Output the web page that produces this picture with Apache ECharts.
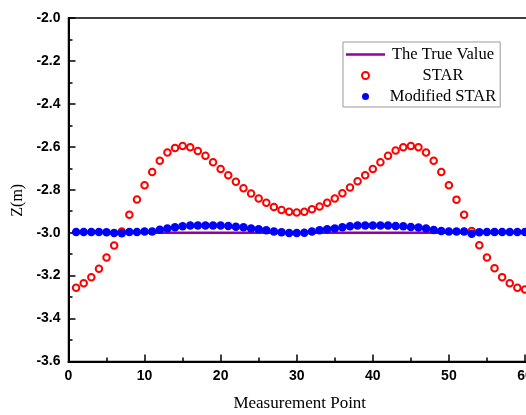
<!DOCTYPE html>
<html>
<head>
<meta charset="utf-8">
<script src="https://cdn.jsdelivr.net/npm/echarts@6/dist/echarts.min.js"></script>
<style>
html,body{margin:0;padding:0;background:#fff;overflow:hidden;}
#chart{width:563px;height:415px;}
</style>
</head>
<body>
<div id="chart"></div>
<script>
// Measurement points
var measurementPoints = [1,2,3,4,5,6,7,8,9,10,11,12,13,14,15,16,17,18,19,20,
  21,22,23,24,25,26,27,28,29,30,31,32,33,34,35,36,37,38,39,40,
  41,42,43,44,45,46,47,48,49,50,51,52,53,54,55,56,57,58,59,60];

// STAR estimates (m)
var starValues = [-3.256,-3.235,-3.208,-3.168,-3.116,-3.060,-2.995,-2.916,-2.845,-2.779,
  -2.717,-2.665,-2.627,-2.605,-2.596,-2.602,-2.619,-2.642,-2.672,-2.703,
  -2.732,-2.763,-2.793,-2.818,-2.841,-2.861,-2.880,-2.894,-2.903,-2.906,
  -2.903,-2.891,-2.878,-2.861,-2.841,-2.816,-2.790,-2.760,-2.732,-2.703,
  -2.672,-2.642,-2.617,-2.602,-2.596,-2.602,-2.627,-2.665,-2.717,-2.779,
  -2.846,-2.916,-2.992,-3.059,-3.116,-3.166,-3.207,-3.236,-3.256,-3.265];

// Modified STAR estimates (m)
var modifiedValues = [-2.997,-2.997,-2.997,-2.997,-2.998,-3.001,-3.003,-2.997,-2.997,-2.995,
  -2.994,-2.986,-2.980,-2.975,-2.970,-2.967,-2.966,-2.966,-2.966,-2.967,
  -2.969,-2.972,-2.975,-2.980,-2.984,-2.989,-2.994,-2.998,-3.001,-3.001,
  -3.000,-2.994,-2.989,-2.984,-2.980,-2.975,-2.970,-2.967,-2.966,-2.966,
  -2.966,-2.967,-2.969,-2.970,-2.973,-2.976,-2.981,-2.987,-2.992,-2.994,
  -2.994,-2.994,-3.005,-2.998,-2.997,-2.997,-2.997,-2.997,-2.997,-2.997];

// True value line
var trueValueX = [1, 60];
var trueValueY = [-3.0, -3.0];

// Axis ticks
var yTicks = ['-3.6','-3.4','-3.2','-3.0','-2.8','-2.6','-2.4','-2.2','-2.0'];
var xTicks = ['0','10','20','30','40','50','60'];

function pairs(xs, ys){ return xs.map(function(x,i){ return [x, ys[i]]; }); }

var chart = echarts.init(document.getElementById('chart'), null, {renderer:'canvas'});
var labelFont = {fontFamily:'Liberation Sans', fontWeight:'bold', fontSize:14, color:'#000'};

chart.setOption({
  animation:false,
  backgroundColor:'#fff',
  grid:{left:68.5, top:18, right:0, bottom:53.5, outerBoundsMode:'none', containLabel:false,
        show:true, borderColor:'#000', borderWidth:1.5, backgroundColor:'transparent'},
  legend:{
    data:[
      {name:'The True Value', icon:'path://M0,0 H39 V2.5 H0 Z'},
      {name:'STAR'},
      {name:'Modified STAR'}
    ],
    orient:'vertical', left:343, top:42,
    padding:[4,4,2,3], itemGap:4, itemWidth:39, itemHeight:7,
    backgroundColor:'#fff', borderColor:'#999', borderWidth:1, borderRadius:0,
    formatter:function(n){ return '{t|'+n+'}'; },
    textStyle:{rich:{t:{width:106, align:'center', fontFamily:'Liberation Serif', fontSize:16.5, lineHeight:16, height:16, color:'#000'}}}
  },
  xAxis:{
    type:'value', min:0, max:65, interval:10,
    name:'Measurement Point', nameLocation:'middle', nameGap:34,
    nameTextStyle:{fontFamily:'Liberation Serif', fontSize:17, color:'#000', padding:[0,32,0,0]},
    axisLine:{show:true, onZero:false, lineStyle:{color:'#000', width:2}},
    axisTick:{show:true, inside:true, length:7, lineStyle:{color:'#000', width:1.5}},
    minorTick:{show:true, splitNumber:2, length:4, lineStyle:{color:'#000', width:1.5}},
    axisLabel:Object.assign({margin:8, formatter:function(v){ var s=String(v); return xTicks.indexOf(s)>=0 ? s : ''; }}, labelFont),
    splitLine:{show:false}
  },
  yAxis:{
    type:'value', min:-3.6, max:-2.0, interval:0.2,
    name:'Z(m)', nameLocation:'middle', nameGap:42,
    nameTextStyle:{fontFamily:'Liberation Serif', fontSize:16, color:'#000', padding:[0,21,0,0]},
    axisLine:{show:true, onZero:false, lineStyle:{color:'#000', width:2}},
    axisTick:{show:true, inside:true, length:7, lineStyle:{color:'#000', width:1.5}},
    minorTick:{show:true, splitNumber:2, length:4, lineStyle:{color:'#000', width:1.5}},
    axisLabel:Object.assign({margin:8, formatter:function(v){ var s=v.toFixed(1); return yTicks.indexOf(s)>=0 ? s : ''; }}, labelFont),
    splitLine:{show:false}
  },
  series:[
    {
      name:'STAR', type:'scatter', z:2,
      symbol:'emptyCircle', symbolSize:6.5,
      itemStyle:{color:'#ff0000', borderColor:'#ff0000', borderWidth:1.3, opacity:1},
      data:pairs(measurementPoints, starValues)
    },
    {
      name:'The True Value', type:'line', z:3,
      symbol:'none', showSymbol:false,
      lineStyle:{color:'#990099', width:2.5},
      itemStyle:{color:'#990099'},
      data:pairs(trueValueX, trueValueY)
    },
    {
      name:'Modified STAR', type:'scatter', z:4,
      symbol:'circle', symbolSize:8.5,
      itemStyle:{color:'#0000ff', opacity:1},
      data:pairs(measurementPoints, modifiedValues)
    }
  ]
});
</script>
</body>
</html>
